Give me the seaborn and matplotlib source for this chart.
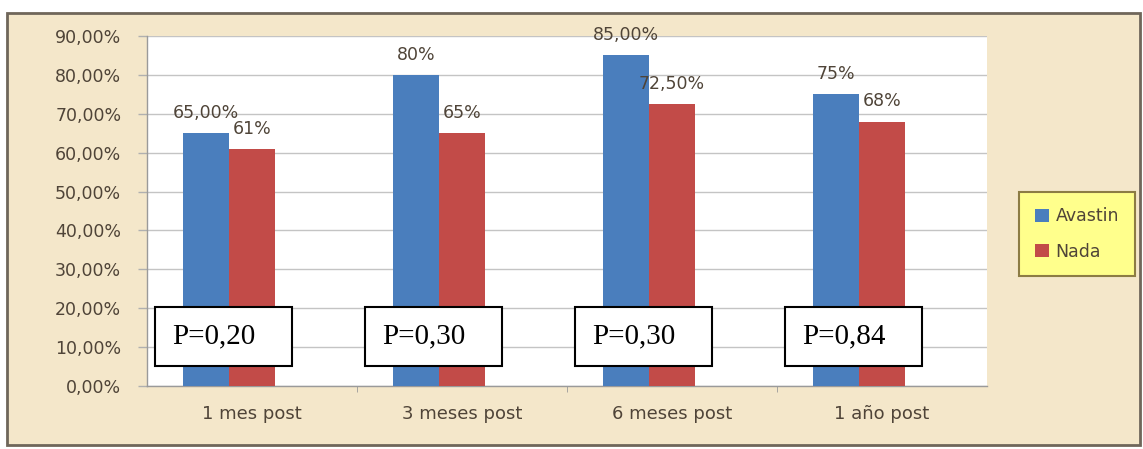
import matplotlib
matplotlib.use('Agg')
import matplotlib.pyplot as plt
from matplotlib.patches import Rectangle, Patch
from matplotlib.ticker import FuncFormatter, MultipleLocator, FixedLocator
import seaborn as sns
import pandas as pd

# datos del grafico
periodos = ['1 mes post', '3 meses post', '6 meses post', '1 año post']
avastin = [65.0, 80.0, 85.0, 75.0]
nada = [61.0, 65.0, 72.5, 68.0]
etiquetas_avastin = ['65,00%', '80%', '85,00%', '75%']
etiquetas_nada = ['61%', '65%', '72,50%', '68%']
valores_p = ['P=0,20', 'P=0,30', 'P=0,30', 'P=0,84']
grupos = ['Avastin', 'Nada']

df = pd.DataFrame({
    'Periodo': periodos * 2,
    'Porcentaje': avastin + nada,
    'Grupo': ['Avastin'] * len(periodos) + ['Nada'] * len(periodos),
})

sns.set_style('white')
plt.rcParams['font.family'] = ['DejaVu Sans']

W, H = 1143, 449
fig = plt.figure(figsize=(W / 100, H / 100), dpi=100)
fig.patch.set_facecolor('white')

# fondo tipo pergamino con marco
fig.patches.append(Rectangle((7 / W, 4 / H), 1133 / W, 432 / H, transform=fig.transFigure,
                             facecolor='#f4e7ca', edgecolor='#6f665a', lw=2, zorder=-10))

ax = fig.add_axes([147 / W, 63 / H, 840 / W, 350 / H])
ax.set_zorder(1)
ax.set_facecolor('white')

colores = ['#4a7ebd', '#c24b48']
# el tercer nivel vacio deja el hueco de la serie sin datos (como en Excel)
sns.barplot(data=df, x='Periodo', y='Porcentaje', hue='Grupo',
            order=periodos, hue_order=grupos + ['(vacio)'],
            palette=colores + ['#9bbb59'], saturation=1, linewidth=0,
            width=0.66, gap=0, errorbar=None, legend=False, ax=ax, zorder=3)

col_texto = '#4f4438'
for cont, etiquetas in zip(ax.containers, [etiquetas_avastin, etiquetas_nada]):
    ax.bar_label(cont, labels=etiquetas, padding=8, fontsize=12.5, color=col_texto)

# cuadros con valores p
for i, p in enumerate(valores_p):
    ax.add_patch(Rectangle((i - 0.46, 5.2), 0.65, 15.2, facecolor='white',
                           edgecolor='black', lw=1.5, zorder=5))
    ax.text(i - 0.38, 12.8, p, va='center', ha='left', fontsize=21,
            family=['Liberation Serif', 'DejaVu Serif'], color='black', zorder=6)

ax.set_ylim(0, 90)
ax.set_xlim(-0.5, len(periodos) - 0.5)
ax.yaxis.set_major_locator(MultipleLocator(10))
ax.yaxis.set_major_formatter(FuncFormatter(lambda v, _: f'{v:.2f}'.replace('.', ',') + '%'))
ax.grid(axis='y', color='#c4c4c4', lw=1, zorder=0)
ax.set_axisbelow(True)
ax.set_xlabel('')
ax.set_ylabel('')

for s in ['top', 'right']:
    ax.spines[s].set_visible(False)
for s in ['left', 'bottom']:
    ax.spines[s].set_color('#9a9a9a')
    ax.spines[s].set_linewidth(1)

ax.tick_params(axis='y', length=6.5, width=1, color='#b0b0b0', pad=12,
               labelsize=12.5, labelcolor=col_texto, direction='out', left=True)
ax.tick_params(axis='x', which='major', length=0, pad=14, labelsize=13, labelcolor=col_texto)
ax.xaxis.set_minor_locator(FixedLocator([i + 0.5 for i in range(len(periodos) - 1)]))
ax.tick_params(axis='x', which='minor', length=4, color='#9a9a9a', bottom=True)

# leyenda
handles = [Patch(facecolor=c, edgecolor='none') for c in colores]
leg = fig.legend(handles, grupos, loc='center', bbox_to_anchor=(1077 / W, 1 - 234 / H),
                 fontsize=12.5, frameon=True, fancybox=False, handlelength=0.8,
                 handleheight=0.8, handletextpad=0.4, labelspacing=1.0, borderpad=0.9)
leg.get_frame().set_facecolor('#ffff8c')
leg.get_frame().set_edgecolor('#8c7c44')
leg.get_frame().set_linewidth(1.5)
leg.get_frame().set_alpha(1)
for t in leg.get_texts():
    t.set_color(col_texto)

fig.savefig('out.png', dpi=100)
